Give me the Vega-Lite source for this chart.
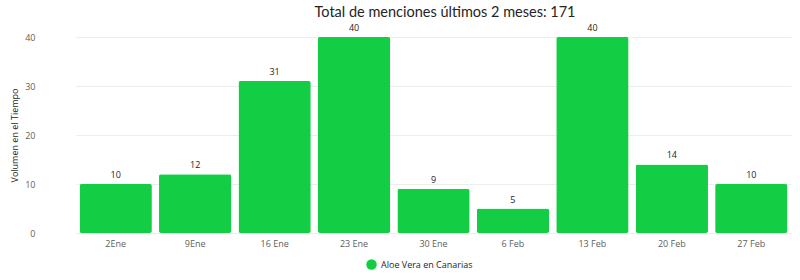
{
  "$schema": "https://vega.github.io/schema/vega-lite/v6.json",
  "autosize": "none",
  "width": 746,
  "height": 196,
  "padding": {"left": 45, "top": 37, "right": 9, "bottom": 47},
  "background": "white",
  "config": {
    "font": "Open Sans",
    "view": {"stroke": null}
  },
  "title": {
    "text": "Total de menciones últimos 2 meses: 171",
    "fontSize": 14.5,
    "fontWeight": "normal",
    "font": "Lato",
    "color": "#252423",
    "anchor": "middle",
    "dx": 27,
    "offset": 4
  },
  "data": {
    "values": [
      {"semana": "2Ene", "menciones": 10, "serie": "Aloe Vera en Canarias"},
      {"semana": "9Ene", "menciones": 12, "serie": "Aloe Vera en Canarias"},
      {"semana": "16 Ene", "menciones": 31, "serie": "Aloe Vera en Canarias"},
      {"semana": "23 Ene", "menciones": 40, "serie": "Aloe Vera en Canarias"},
      {"semana": "30 Ene", "menciones": 9, "serie": "Aloe Vera en Canarias"},
      {"semana": "6 Feb", "menciones": 5, "serie": "Aloe Vera en Canarias"},
      {"semana": "13 Feb", "menciones": 40, "serie": "Aloe Vera en Canarias"},
      {"semana": "20 Feb", "menciones": 14, "serie": "Aloe Vera en Canarias"},
      {"semana": "27 Feb", "menciones": 10, "serie": "Aloe Vera en Canarias"}
    ]
  },
  "encoding": {
    "x": {
      "field": "semana",
      "type": "nominal",
      "sort": null,
      "scale": {"range": [31, 746], "paddingInner": 0.09, "paddingOuter": 0.045},
      "axis": {
        "title": null,
        "labelAngle": 0,
        "labelFontSize": 9,
        "labelColor": "#605E5C",
        "ticks": false,
        "domain": false,
        "labelPadding": 6
      }
    },
    "y": {
      "field": "menciones",
      "type": "quantitative",
      "scale": {"domain": [0, 40], "nice": false},
      "axis": {
        "title": "Volumen en el Tiempo",
        "titleFontSize": 9,
        "titleFontWeight": "normal",
        "titleColor": "#252423",
        "titlePadding": 5,
        "labelFontSize": 9,
        "labelColor": "#605E5C",
        "values": [0, 10, 20, 30, 40],
        "ticks": false,
        "domain": false,
        "gridColor": "#EDEDED",
        "labelPadding": 10
      }
    }
  },
  "layer": [
    {
      "mark": {"type": "bar", "cornerRadius": 2},
      "encoding": {
        "color": {
          "field": "serie",
          "type": "nominal",
          "scale": {"range": ["#13CE45"]},
          "legend": {
            "title": null,
            "orient": "none",
            "legendX": 321,
            "legendY": 222,
            "symbolType": "circle",
            "symbolSize": 110,
            "labelFontSize": 9,
            "labelColor": "#252423",
            "symbolStrokeWidth": 0
          }
        }
      }
    },
    {
      "mark": {"type": "text", "baseline": "bottom", "dy": -4, "fontSize": 9, "color": "#252423"},
      "encoding": {
        "text": {"field": "menciones", "type": "quantitative"}
      }
    }
  ]
}
